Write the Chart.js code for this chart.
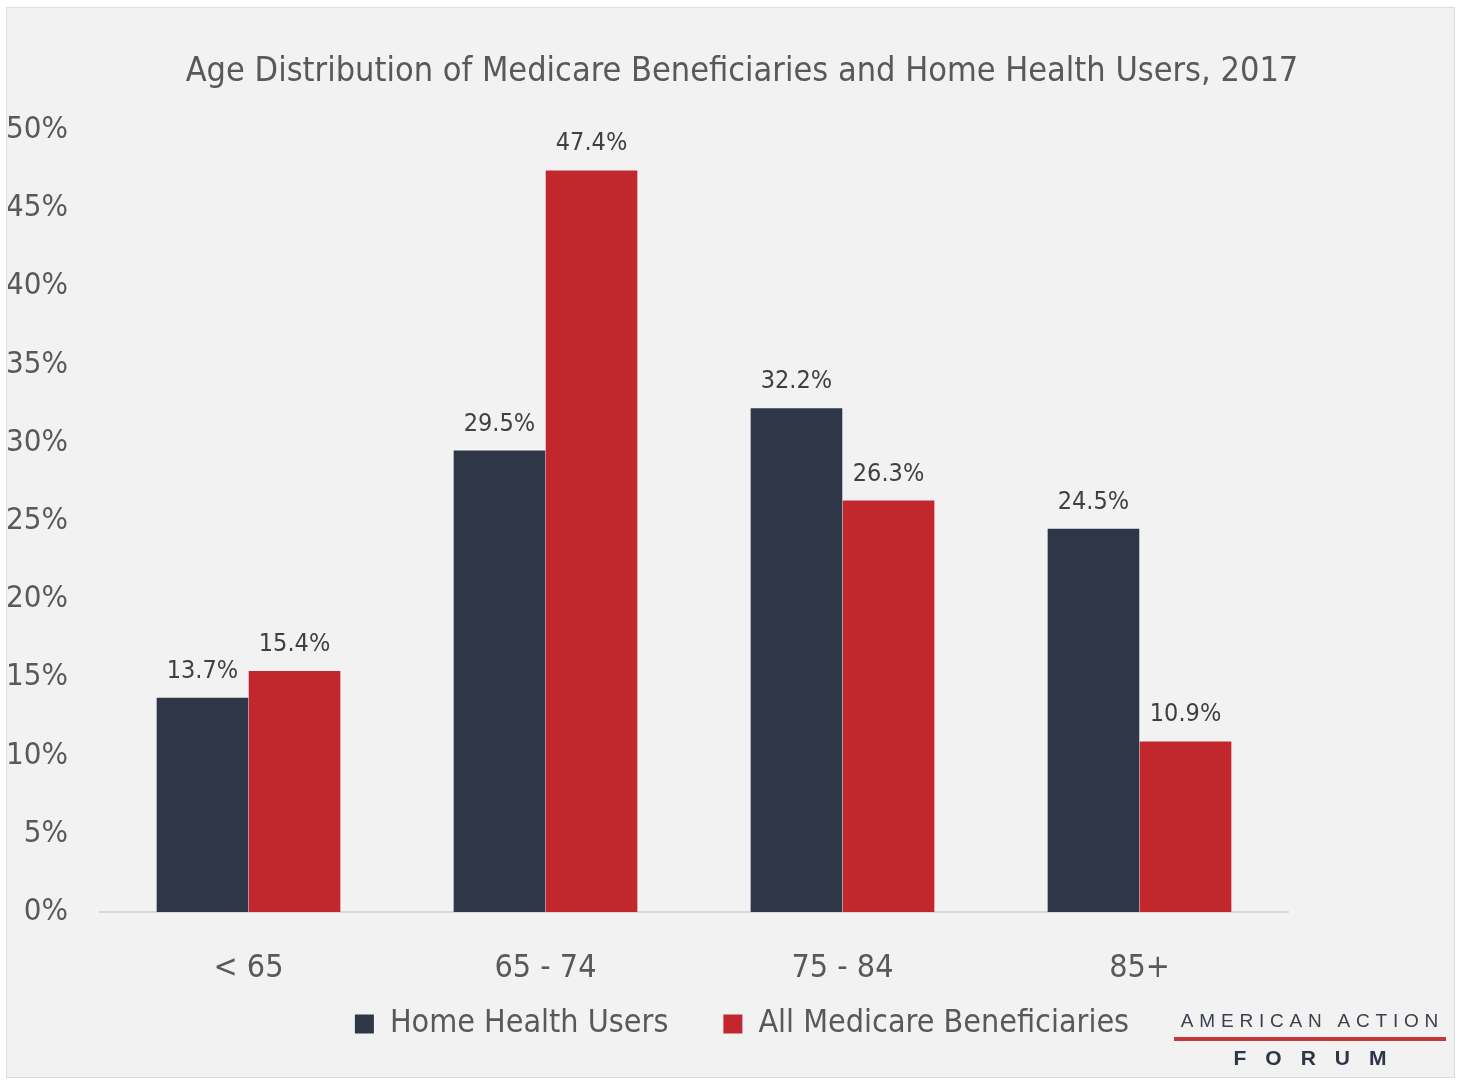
<!DOCTYPE html>
<html>
<head>
<meta charset="utf-8">
<script src="https://cdn.jsdelivr.net/npm/chart.js@4.4.1/dist/chart.umd.min.js"></script>
<style>
body { margin: 0; background: #fff; }
#wrap { position: relative; width: 1460px; height: 1081px; }
.logo { position: absolute; left: 1172px; top: 1009px; width: 276px; text-align: center; font-family: 'Liberation Sans', Arial, sans-serif; }
.logo .top { font-size: 19px; letter-spacing: 5.8px; color: #3b404c; line-height: 24px; padding-left: 5px; }
.logo .rule { height: 4px; background: #c4383a; margin: 4px 2px 5px 2px; }
.logo .bottom { font-size: 21px; font-weight: bold; letter-spacing: 19px; color: #2e3545; line-height: 24px; padding-left: 19px; }
</style>
</head>
<body>
<div id="wrap">
<canvas id="chart" width="1460" height="1081"></canvas>
<div class="logo">
  <div class="top">AMERICAN ACTION</div>
  <div class="rule"></div>
  <div class="bottom">FORUM</div>
</div>
</div>
<script>
const ageGroups = ["< 65", "65 - 74", "75 - 84", "85+"];
const homeHealthUsers = [13.7, 29.5, 32.2, 24.5];
const allBeneficiaries = [15.4, 47.4, 26.3, 10.9];
const yMax = 50;
const yStep = 5;

const font = "'Liberation Sans Narrow', 'DejaVu Sans Condensed', sans-serif";
const navy = "#2e3648";
const red = "#c1272d";
const grey = "#595959";

// grey panel behind the chart
const panel = {
    id: "panel",
    beforeDraw(chart) {
        const ctx = chart.ctx;
        ctx.save();
        ctx.fillStyle = "#ffffff";
        ctx.fillRect(0, 0, chart.width, chart.height);
        ctx.fillStyle = "#f2f2f2";
        ctx.fillRect(6, 7, 1449, 1071);
        ctx.strokeStyle = "#dddddd";
        ctx.lineWidth = 1;
        ctx.strokeRect(6.5, 7.5, 1448, 1070);
        ctx.restore();
    }
};

// value labels above bars
const valueLabels = {
    id: "valueLabels",
    afterDatasetsDraw(chart) {
        const ctx = chart.ctx;
        ctx.save();
        ctx.font = "25px " + font;
        ctx.fillStyle = "#404040";
        ctx.textAlign = "center";
        ctx.textBaseline = "alphabetic";
        chart.data.datasets.forEach((ds, i) => {
            chart.getDatasetMeta(i).data.forEach((bar, j) => {
                ctx.fillText(ds.data[j].toFixed(1) + "%", bar.x, bar.y - 20);
            });
        });
        ctx.restore();
    }
};

new Chart(document.getElementById("chart"), {
    type: "bar",
    data: {
        labels: ageGroups,
        datasets: [
            {
                label: "Home Health Users",
                data: homeHealthUsers,
                backgroundColor: navy,
                categoryPercentage: 0.62,
                barPercentage: 0.995
            },
            {
                label: "All Medicare Beneficiaries",
                data: allBeneficiaries,
                backgroundColor: red,
                categoryPercentage: 0.62,
                barPercentage: 0.995
            }
        ]
    },
    options: {
        responsive: false,
        animation: false,
        layout: { padding: { left: 8, right: -16, top: 0, bottom: 31 } },
        plugins: {
            title: {
                display: true,
                text: "Age Distribution of Medicare Beneficiaries and Home Health Users, 2017",
                color: grey,
                font: { family: font, size: 34, weight: "normal" },
                padding: { top: 52, bottom: 37 }
            },
            legend: {
                position: "bottom",
                labels: {
                    color: grey,
                    font: { family: font, size: 32 },
                    boxWidth: 19,
                    boxHeight: 19,
                    padding: 55
                }
            },
            tooltip: { enabled: false }
        },
        scales: {
            x: {
                grid: { display: false, drawTicks: false },
                border: { display: true, color: "#d9d9d9", width: 2 },
                ticks: {
                    color: grey,
                    font: { family: font, size: 32 },
                    mirror: true,
                    padding: -76
                },
                afterFit: s => { s.height = 41; }
            },
            y: {
                min: 0,
                max: yMax,
                grid: { display: false, drawTicks: false },
                border: { display: false },
                ticks: {
                    stepSize: yStep,
                    color: grey,
                    font: { family: font, size: 31 },
                    padding: 32,
                    callback: v => v + "%"
                },
                afterFit: s => { s.width = 92; }
            },
            rightSpace: {
                position: "right",
                grid: { display: false, drawTicks: false },
                border: { display: false },
                ticks: { display: false },
                afterFit: s => { s.width = 188; }
            }
        }
    },
    plugins: [panel, valueLabels]
});
</script>
</body>
</html>
